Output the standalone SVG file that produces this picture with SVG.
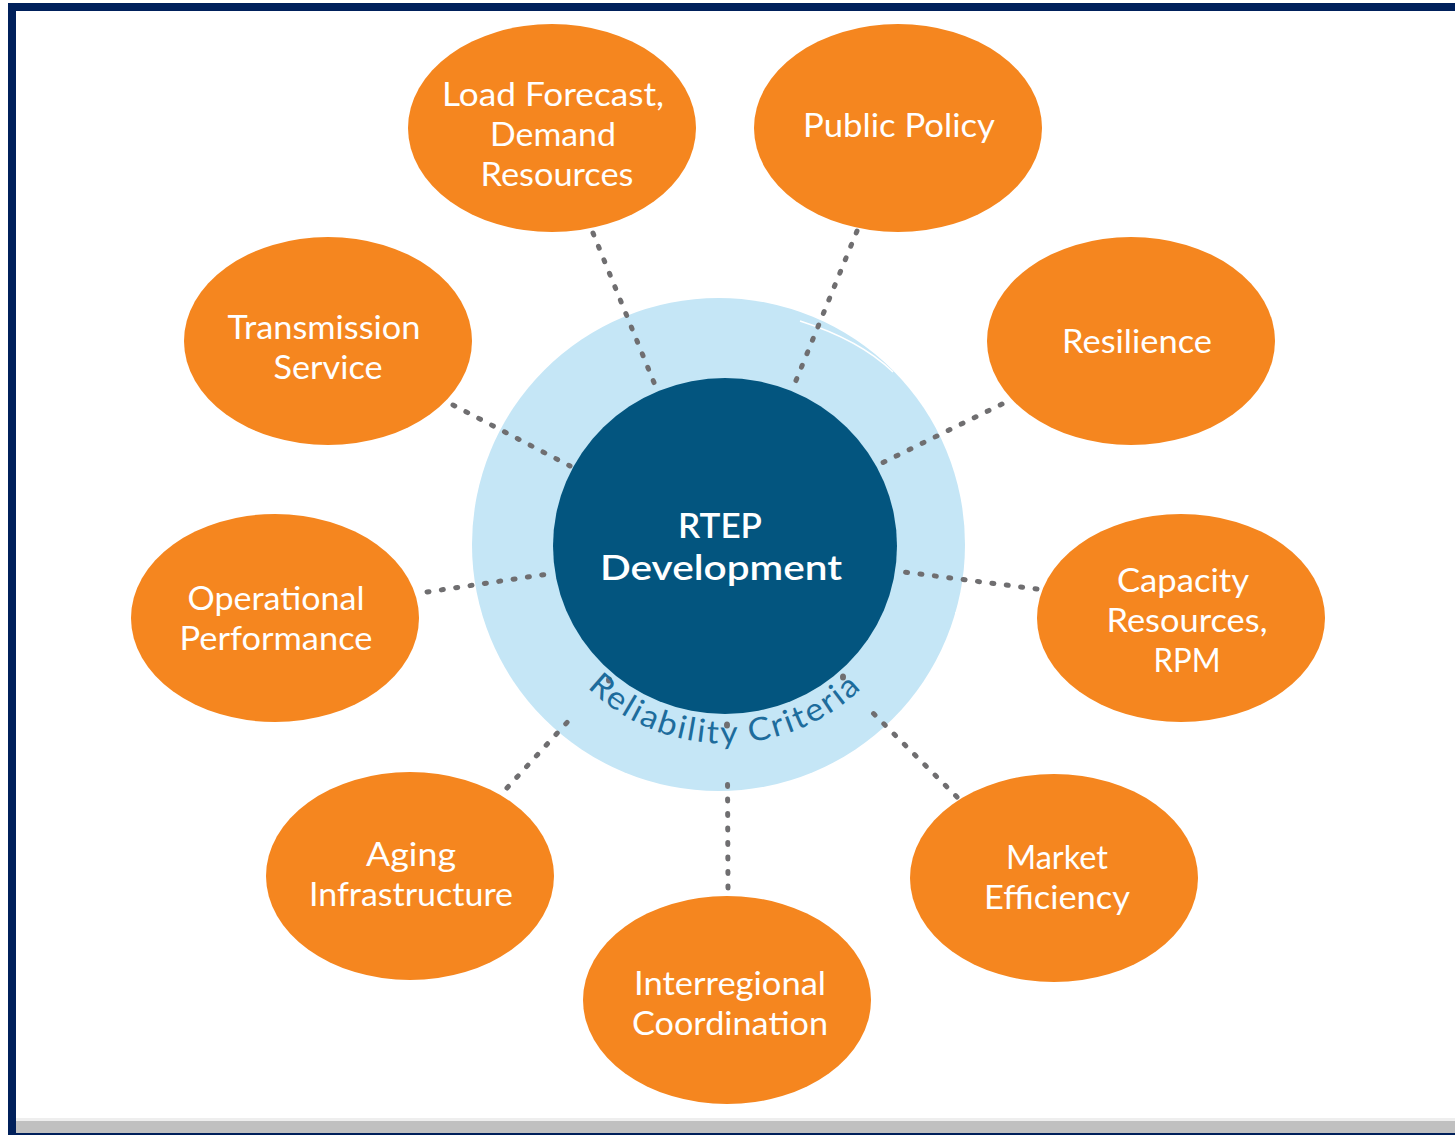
<svg xmlns="http://www.w3.org/2000/svg" width="1455" height="1135" viewBox="0 0 1455 1135">
  <defs>
    <style>
      .node { fill: #F5861F; }
      .lbl { font-family: "Lato", "Open Sans", "Liberation Sans", sans-serif; font-weight: 400; font-size: 33px; fill: #FFFFFF; text-anchor: middle; }
      .dots { fill: none; stroke: #6F6E70; stroke-width: 5; stroke-linecap: round; stroke-dasharray: 2 12.5; }
      .dot { fill: #6F6E70; }
      .center-t { font-family: "Lato", "Open Sans", "Liberation Sans", sans-serif; font-weight: 600; font-size: 35px; fill: #FFFFFF; text-anchor: middle; }
      .arc-t { font-family: "Lato", "Open Sans", "Liberation Sans", sans-serif; font-weight: 400; font-size: 32px; fill: #1D6C9C; letter-spacing: 2px; }
    </style>
    <path id="arcPath" d="M 574 673 A 197 197 0 0 0 876 673"/>
  </defs>

  <rect x="0" y="0" width="1455" height="1135" fill="#FFFFFF"/>

  <!-- frame -->
  <rect x="16" y="1118" width="1439" height="3" fill="#EEEEEE"/>
  <rect x="16" y="1121" width="1439" height="12" fill="#C0C0C0"/>
  <rect x="16" y="1133" width="1439" height="2" fill="#00205B"/>
  <rect x="8" y="3" width="1447" height="8" fill="#00205B"/>
  <rect x="8" y="3" width="8" height="1132" fill="#00205B"/>

  <!-- reliability ring -->
  <g id="ring">
    <circle cx="718.5" cy="544.5" r="246.5" fill="#C5E6F6"/>
    <path d="M 800 321 Q 860 340 893 372" fill="none" stroke="#FFFFFF" stroke-width="1.5"/>
    <path d="M 956 612 Q 952 650 944 682" fill="none" stroke="#FFFFFF" stroke-width="1.5"/>
  </g>

  <!-- connectors -->
  <g id="connectors">
    <path class="dots" d="M 593 233 L 655 385"/>
    <path class="dots" d="M 857 231 L 795 383"/>
    <path class="dots" d="M 453 405 L 570 466"/>
    <path class="dots" d="M 1002 404 L 882 463"/>
    <path class="dots" d="M 427 592 L 555 573"/>
    <path class="dots" d="M 1037 589 L 904 572"/>
    <path class="dots" d="M 507 788 L 572 717"/>
    <ellipse class="dot" cx="609" cy="680" rx="3" ry="3.5"/>
    <path class="dots" d="M 957 797 L 867 707"/>
    <ellipse class="dot" cx="843" cy="677" rx="3" ry="3.5"/>
    <path class="dots" d="M 728 888 L 727.5 773"/>
    <ellipse class="dot" cx="727" cy="725" rx="3" ry="3.5"/>
  </g>

  <!-- center -->
  <g id="rtep">
    <ellipse cx="725" cy="546" rx="172" ry="168" fill="#03557F"/>
    <text class="center-t" x="720" y="538">RTEP</text>
    <text class="center-t" x="721" y="580" textLength="242" lengthAdjust="spacingAndGlyphs">Development</text>
  </g>

  <g id="reliability-label">
    <text class="arc-t"><textPath href="#arcPath" startOffset="50%" text-anchor="middle" textLength="305" lengthAdjust="spacingAndGlyphs">Reliability Criteria</textPath></text>
  </g>

  <!-- nodes -->
  <g id="load-forecast">
    <ellipse class="node" cx="552" cy="128" rx="144" ry="104"/>
    <text class="lbl" x="553" y="106" textLength="222" lengthAdjust="spacingAndGlyphs">Load Forecast,</text>
    <text class="lbl" x="553" y="146" textLength="126" lengthAdjust="spacingAndGlyphs">Demand</text>
    <text class="lbl" x="557" y="186" textLength="153" lengthAdjust="spacingAndGlyphs">Resources</text>
  </g>
  <g id="public-policy">
    <ellipse class="node" cx="898" cy="128" rx="144" ry="104"/>
    <text class="lbl" x="899" y="137" textLength="192" lengthAdjust="spacingAndGlyphs">Public Policy</text>
  </g>
  <g id="transmission-service">
    <ellipse class="node" cx="328" cy="341" rx="144" ry="104"/>
    <text class="lbl" x="324" y="339" textLength="193" lengthAdjust="spacingAndGlyphs">Transmission</text>
    <text class="lbl" x="328" y="379" textLength="109" lengthAdjust="spacingAndGlyphs">Service</text>
  </g>
  <g id="resilience">
    <ellipse class="node" cx="1131" cy="341" rx="144" ry="104"/>
    <text class="lbl" x="1137" y="353" textLength="150" lengthAdjust="spacingAndGlyphs">Resilience</text>
  </g>
  <g id="operational-performance">
    <ellipse class="node" cx="275" cy="618" rx="144" ry="104"/>
    <text class="lbl" x="276" y="610" textLength="177" lengthAdjust="spacingAndGlyphs">Operational</text>
    <text class="lbl" x="276" y="650" textLength="193" lengthAdjust="spacingAndGlyphs">Performance</text>
  </g>
  <g id="capacity-resources">
    <ellipse class="node" cx="1181" cy="618" rx="144" ry="104"/>
    <text class="lbl" x="1183" y="592" textLength="132" lengthAdjust="spacingAndGlyphs">Capacity</text>
    <text class="lbl" x="1187" y="632" textLength="161" lengthAdjust="spacingAndGlyphs">Resources,</text>
    <text class="lbl" x="1187" y="672" textLength="67" lengthAdjust="spacingAndGlyphs">RPM</text>
  </g>
  <g id="aging-infrastructure">
    <ellipse class="node" cx="410" cy="876" rx="144" ry="104"/>
    <text class="lbl" x="411" y="866" textLength="90" lengthAdjust="spacingAndGlyphs">Aging</text>
    <text class="lbl" x="411" y="906" textLength="204" lengthAdjust="spacingAndGlyphs">Infrastructure</text>
  </g>
  <g id="market-efficiency">
    <ellipse class="node" cx="1054" cy="878" rx="144" ry="104"/>
    <text class="lbl" x="1057" y="869" textLength="102" lengthAdjust="spacingAndGlyphs">Market</text>
    <text class="lbl" x="1057" y="909" textLength="146" lengthAdjust="spacingAndGlyphs">Efficiency</text>
  </g>
  <g id="interregional-coordination">
    <ellipse class="node" cx="727" cy="1000" rx="144" ry="104"/>
    <text class="lbl" x="730" y="995" textLength="192" lengthAdjust="spacingAndGlyphs">Interregional</text>
    <text class="lbl" x="730" y="1035" textLength="196" lengthAdjust="spacingAndGlyphs">Coordination</text>
  </g>
</svg>
